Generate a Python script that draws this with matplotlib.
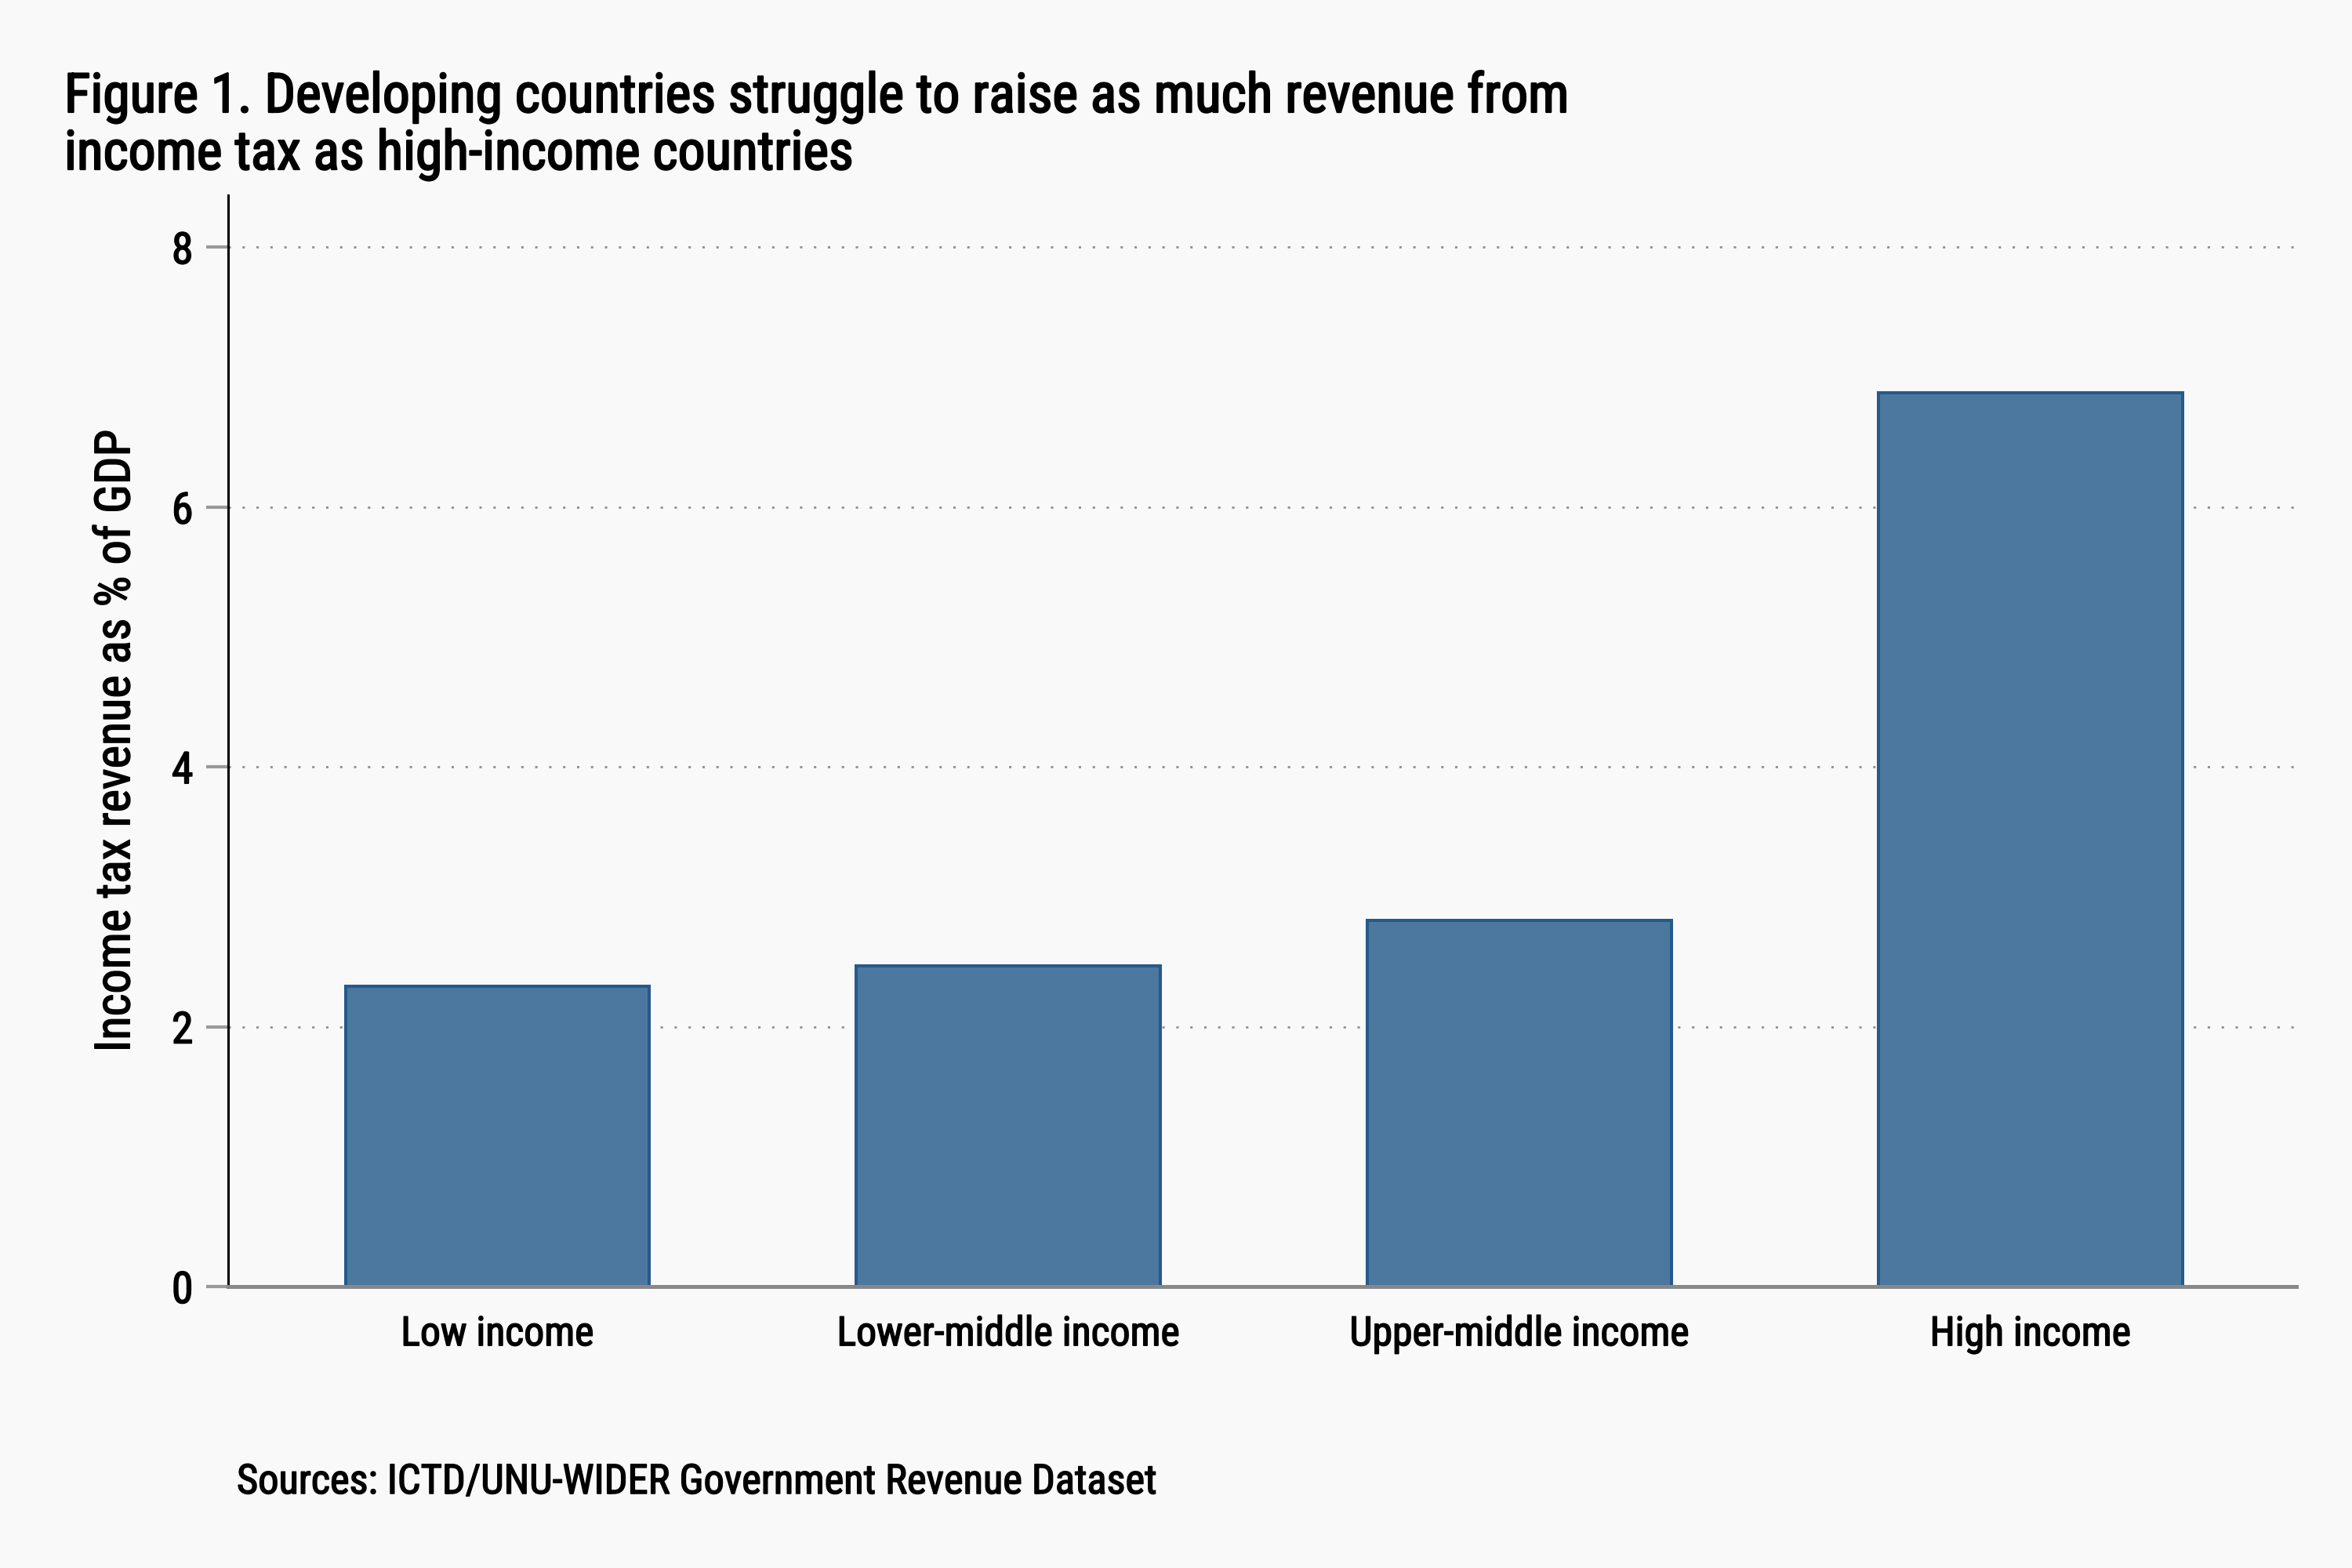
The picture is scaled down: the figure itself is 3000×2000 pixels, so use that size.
import matplotlib.pyplot as plt
from matplotlib import font_manager as fm
import matplotlib.patheffects as pe
import numpy as np

# 找一个窄体字体，没有就用 Liberation Sans
names = sorted({f.name for f in fm.fontManager.ttflist})
prefer = ['Roboto Condensed', 'Liberation Sans Narrow', 'DejaVu Sans Condensed',
          'Open Sans Condensed', 'Noto Sans Condensed', 'Liberation Sans']
family = [n for n in prefer if n in names] + ['DejaVu Sans']
plt.rcParams['font.family'] = family

# 数据
categories = ['Low income', 'Lower-middle income', 'Upper-middle income', 'High income']
revenue = [2.31, 2.47, 2.82, 6.88]
y_ticks = [0, 2, 4, 6, 8]

title1 = 'Figure 1. Developing countries struggle to raise as much revenue from'
title2 = 'income tax as high-income countries'
source = 'Sources: ICTD/UNU-WIDER Government Revenue Dataset'

# 稍微加粗（参考图是中等粗细）
thick = [pe.withStroke(linewidth=1.1, foreground='black')]
thick_title = [pe.withStroke(linewidth=1.6, foreground='black')]

bg = '#f9f9f9'
fig = plt.figure(figsize=(30, 20), dpi=100, facecolor=bg)
ax = fig.add_axes([291 / 3000, 1 - 1641 / 2000, (2929 - 291) / 3000, (1641 - 249) / 2000])
ax.set_facecolor(bg)

x = np.arange(len(categories))
ax.bar(x, revenue, width=0.595, color='#4c78a0', edgecolor='#255a8a', linewidth=2.9, zorder=3)

ax.set_xlim(-0.527, 3.52)
ax.set_ylim(0, 8.4)
ax.set_yticks(y_ticks)
ax.set_xticks(x)
ax.set_xticklabels(categories, fontsize=34)
ax.tick_params(axis='y', labelsize=36, length=20, width=3, color='#999999', pad=12)
ax.tick_params(axis='x', length=0, pad=26)
ax.yaxis.grid(True, linestyle=(0, (1.1, 5.3)), color='#8f8f8f', linewidth=2.0, zorder=0)

for s in ['top', 'right']:
    ax.spines[s].set_visible(False)
ax.spines['left'].set_linewidth(2.2)
ax.spines['left'].set_color('black')
ax.spines['bottom'].set_linewidth(3.6)
ax.spines['bottom'].set_color('#888888')
ax.spines['bottom'].set_zorder(4)

ylab = ax.set_ylabel('Income tax revenue as % of GDP', fontsize=40, labelpad=30)

t1 = fig.text(82 / 3000, 1 - 143 / 2000, title1, fontsize=48, ha='left', va='baseline')
t2 = fig.text(82 / 3000, 1 - 216 / 2000, title2, fontsize=48, ha='left', va='baseline')
src = fig.text(302 / 3000, 1 - 1905 / 2000, source, fontsize=34, ha='left', va='baseline')

# 按参考图的文字宽度调字号
fig.canvas.draw()
r = fig.canvas.get_renderer()


def fit(t, target, vertical=False):
    bb = t.get_window_extent(r)
    size = bb.height if vertical else bb.width
    t.set_fontsize(t.get_fontsize() * target / size)
    return t.get_fontsize()


fs_title = fit(t1, 1919)
t2.set_fontsize(fs_title)
fit(src, 1175)
fs_cat = fit(ax.get_xticklabels()[1], 438)
ax.tick_params(axis='x', labelsize=fs_cat)
ax.tick_params(axis='y', labelsize=fs_cat * 1.08)
fit(ylab, 794, vertical=True)

for t in [t1, t2]:
    t.set_path_effects(thick_title)
for t in [src, ylab] + ax.get_xticklabels() + ax.get_yticklabels():
    t.set_path_effects(thick)

fig.savefig('out.png', dpi=100, facecolor=bg)
